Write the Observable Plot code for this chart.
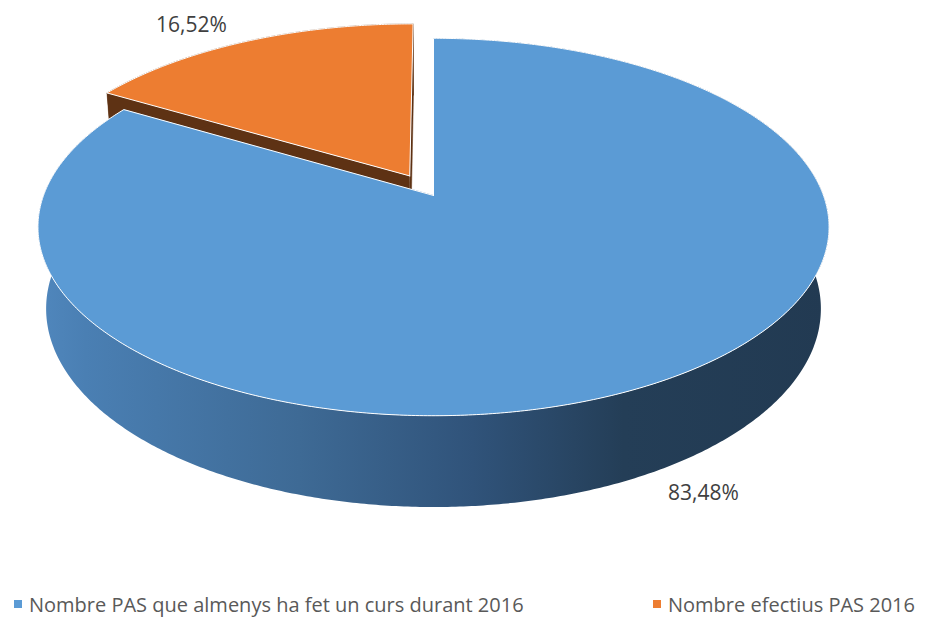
<!DOCTYPE html>
<html>
<head>
<meta charset="utf-8">
<script src="https://cdn.jsdelivr.net/npm/d3@7"></script>
<script src="https://cdn.jsdelivr.net/npm/@observablehq/plot@0.6"></script>
<style>
  html, body { margin: 0; padding: 0; background: #fff; }
  body { width: 936px; height: 622px; overflow: hidden; font-family: "Open Sans", sans-serif; }
  #legend { position: relative; height: 40px; }
  .item { position: absolute; top: 2px; height: 40px; display: flex; align-items: center; font-size: 20px; color: #595959; white-space: nowrap; }
  .sw { width: 8px; height: 8px; margin-right: 7px; }
</style>
</head>
<body>
<div id="chart"></div>
<div id="legend"></div>
<script>
// ---- data ----
const categories = ["Nombre PAS que almenys ha fet un curs durant 2016", "Nombre efectius PAS 2016"];
const values = [83.48, 16.52];
const labels = ["83,48%", "16,52%"];

// ---- style / view settings ----
const topColors = ["#5b9bd5", "#ed7d31"];
const cutColors = ["#3d6a96", "#5e3214"];
const explode = [0, 0.125];
const TILT = 27.6 * Math.PI / 180, DIST = 5.31, DEPTH = 0.235;
const sinE = Math.sin(TILT), cosE = Math.cos(TILT);
const W = 936, H = 582, CX = 433, CY = 195, SX = 390, SY = 396;
const labelOffsets = [[49, 22], [-55, -16]];
const legendLeft = [14, 653];
const wallStops = [[0, "#5087bd"], [0.06, "#4a7fb3"], [0.33, "#3e6a95"], [0.55, "#30537a"], [0.74, "#243e57"], [1, "#223a52"]];

function proj(a, r, h, off) {
  const u = r * Math.sin(a) + off.u, v = -r * Math.cos(a) + off.v;
  const yc = v * sinE - h * cosE, zc = DIST - v * cosE - h * sinE;
  return {x: u * DIST / zc, y: yc * DIST / zc};
}

const arcs = d3.pie().sort(null).startAngle(0).endAngle(2 * Math.PI)(values);

const pts = [];
const wallPts = [];
let pid = 0;
function poly(target, points, fill, stroke, sw) {
  const id = pid++;
  for (const p of points) target.push({id, x: p.x, y: p.y, fill, stroke, sw});
}

const labelPts = [];
const back = [], front = [];
// paint back slice (orange) first, then front slice (blue)
for (const i of [1, 0]) {
  const arc = arcs[i];
  const mid = (arc.startAngle + arc.endAngle) / 2;
  const off = {u: explode[i] * Math.sin(mid), v: -explode[i] * Math.cos(mid)};
  const a0 = arc.startAngle, a1 = arc.endAngle;
  const n = Math.max(2, Math.ceil((a1 - a0) / (Math.PI / 360)));
  const target = i === 0 ? front : back;
  // cut faces
  for (const a of [a0, a1]) {
    poly(target, [proj(a, 0, 0, off), proj(a, 1, 0, off), proj(a, 1, -DEPTH, off), proj(a, 0, -DEPTH, off)], cutColors[i], cutColors[i], 0.5);
  }
  // outer wall (one band: top rim forward, bottom rim back)
  const wall = [];
  for (let k = 0; k <= n; k++) wall.push(proj(a0 + (a1 - a0) * k / n, 1, 0, off));
  for (let k = n; k >= 0; k--) wall.push(proj(a0 + (a1 - a0) * k / n, 1, -DEPTH, off));
  if (i === 0) poly(wallPts, wall, "url(#wallGrad)", "none", 0);
  else poly(target, wall, cutColors[i], cutColors[i], 0.5);
  // top face
  const top = [proj(0, 0, 0, off)];
  for (let k = 0; k <= n; k++) top.push(proj(a0 + (a1 - a0) * k / n, 1, 0, off));
  top.push(proj(0, 0, 0, off));
  poly(i === 0 ? pts : target, top, topColors[i], "white", 1);
  // label anchor
  const lp = i === 0 ? proj(mid, 1, -DEPTH, off) : proj(mid, 1, 0, off);
  labelPts.push({x: lp.x, y: lp.y, text: labels[i], dx: labelOffsets[i][0], dy: labelOffsets[i][1]});
}

const lineOpts = {x: "x", y: "y", z: "id", fill: "fill", stroke: "stroke", strokeWidth: "sw", strokeLinejoin: "round"};
const chart = Plot.plot({
  width: W,
  height: H,
  margin: 0,
  x: {domain: [-CX / SX, (W - CX) / SX], range: [0, W], axis: null},
  y: {domain: [-CY / SY, (H - CY) / SY], range: [0, H], axis: null},
  color: {type: "identity"},
  style: {background: "white", fontFamily: "'Open Sans', sans-serif"},
  marks: [
    Plot.line(back, lineOpts),
    Plot.line(front, lineOpts),
    Plot.line(wallPts, {x: "x", y: "y", z: "id", fill: "url(#wallGrad)", stroke: "none"}),
    Plot.line(pts, lineOpts),
    ...labelPts.map(l => Plot.text([l], {x: "x", y: "y", text: "text", dx: l.dx, dy: l.dy, fontSize: 21, fill: "#404040"}))
  ]
});
// gradient definition for the shaded outer wall
const ns = "http://www.w3.org/2000/svg";
const defs = document.createElementNS(ns, "defs");
const grad = document.createElementNS(ns, "linearGradient");
grad.setAttribute("id", "wallGrad");
grad.setAttribute("x1", "0"); grad.setAttribute("x2", "1");
grad.setAttribute("y1", "0"); grad.setAttribute("y2", "0");
for (const [o, c] of wallStops) {
  const s = document.createElementNS(ns, "stop");
  s.setAttribute("offset", o);
  s.setAttribute("stop-color", c);
  grad.appendChild(s);
}
defs.appendChild(grad);
chart.insertBefore(defs, chart.firstChild);
document.getElementById("chart").appendChild(chart);

const legend = document.getElementById("legend");
categories.forEach((c, i) => {
  const item = document.createElement("div");
  item.className = "item";
  item.style.left = legendLeft[i] + "px";
  const sw = document.createElement("span");
  sw.className = "sw";
  sw.style.background = topColors[i];
  const t = document.createElement("span");
  t.textContent = c;
  item.appendChild(sw);
  item.appendChild(t);
  legend.appendChild(item);
});
</script>
</body>
</html>
